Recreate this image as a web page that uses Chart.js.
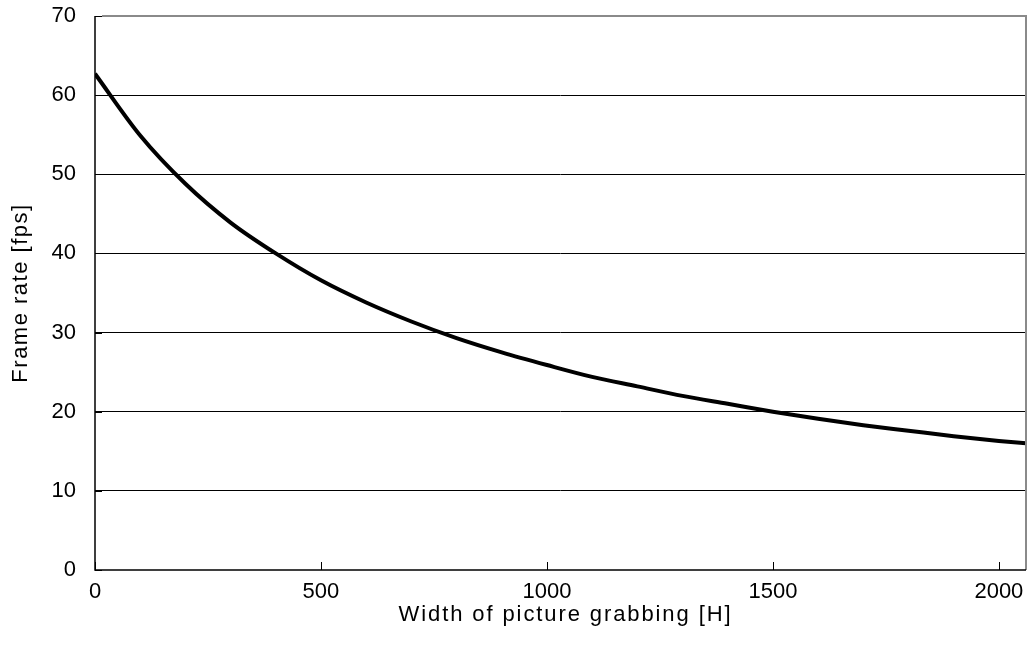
<!DOCTYPE html>
<html>
<head>
<meta charset="utf-8">
<script src="https://cdn.jsdelivr.net/npm/chart.js@4"></script>
<style>
html,body{margin:0;padding:0;background:#fff;}
canvas{display:block;}
</style>
</head>
<body>
<canvas id="c" width="1028" height="652"></canvas>
<script>
// Data
const widthH = [0, 100, 200, 300, 400, 500, 600, 700, 800, 900, 1000, 1100, 1200, 1300, 1400, 1500, 1600, 1700, 1800, 1900, 2000, 2060];
const frameRate = [62.7, 54.9, 48.8, 43.9, 40.0, 36.6, 33.8, 31.4, 29.3, 27.5, 25.9, 24.4, 23.2, 22.0, 21.0, 20.0, 19.1, 18.3, 17.6, 16.9, 16.3, 16.0];
const xTicks = [0, 500, 1000, 1500, 2000];
const yTicks = [0, 10, 20, 30, 40, 50, 60, 70];
const xTitle = 'Width of picture grabbing [H]';
const yTitle = 'Frame rate [fps]';

const FONT = "'Liberation Sans', Arial, sans-serif";

function patchTitle(scale, spacing, dx) {
  if (scale._patchedTitle) return;
  const orig = scale.drawTitle.bind(scale);
  scale.drawTitle = function () {
    const ctx = this.ctx;
    ctx.save();
    ctx.translate(dx, 0);
    ctx.letterSpacing = spacing;
    orig();
    ctx.restore();
    ctx.letterSpacing = '0px';
  };
  scale._patchedTitle = true;
}

const frame = {
  id: 'frame',
  afterDatasetsDraw(chart) {
    const {ctx, chartArea: a, scales: {x, y}} = chart;
    ctx.save();
    // inward tick marks
    ctx.strokeStyle = '#000';
    ctx.lineWidth = 1;
    ctx.beginPath();
    xTicks.forEach(v => {
      const px = Math.round(x.getPixelForValue(v)) + 0.5;
      ctx.moveTo(px, a.bottom);
      ctx.lineTo(px, a.bottom - 8);
    });
    yTicks.forEach(v => {
      const py = Math.round(y.getPixelForValue(v)) + 0.5;
      ctx.moveTo(a.left, py);
      ctx.lineTo(a.left + 7, py);
    });
    ctx.stroke();
    // gray top and right border
    ctx.strokeStyle = '#8a8a8a';
    ctx.lineWidth = 2;
    ctx.beginPath();
    ctx.moveTo(a.left + 7, a.top);
    ctx.lineTo(a.right, a.top);
    ctx.lineTo(a.right, a.bottom);
    ctx.stroke();
    // black left and bottom axes
    ctx.strokeStyle = '#000';
    ctx.lineWidth = 1.5;
    ctx.beginPath();
    ctx.moveTo(a.left, a.top);
    ctx.lineTo(a.left, a.bottom);
    ctx.lineTo(a.right, a.bottom);
    ctx.stroke();
    ctx.restore();
  }
};

new Chart(document.getElementById('c'), {
  type: 'line',
  data: {
    datasets: [{
      data: widthH.map((v, i) => ({x: v, y: frameRate[i]})),
      borderColor: '#000',
      borderWidth: 4,
      pointRadius: 0,
      fill: false,
      cubicInterpolationMode: 'monotone'
    }]
  },
  options: {
    responsive: false,
    animation: false,
    devicePixelRatio: 1,
    layout: {padding: {top: 16, right: 2, left: 0, bottom: 0}},
    plugins: {legend: {display: false}, tooltip: {enabled: false}},
    scales: {
      x: {
        type: 'linear',
        min: 0,
        max: 2060,
        afterBuildTicks: s => { s.ticks = xTicks.map(v => ({value: v})); },
        afterFit: s => { s.height = 82; s.paddingLeft = 0; s.paddingRight = 0; patchTitle(s, '1.9px', 5); },
        grid: {display: false, drawTicks: false},
        border: {display: false},
        ticks: {
          color: '#000',
          padding: 9,
          maxRotation: 0,
          callback: v => String(v),
          font: {family: FONT, size: 22}
        },
        title: {
          display: true,
          text: xTitle,
          color: '#000',
          padding: {top: 0, bottom: 24},
          font: {family: FONT, size: 22}
        }
      },
      y: {
        type: 'linear',
        min: 0,
        max: 70,
        afterBuildTicks: s => { s.ticks = yTicks.map(v => ({value: v})); },
        afterFit: s => { s.width = 95; s.paddingTop = 0; s.paddingBottom = 0; patchTitle(s, '1.5px', 0); },
        grid: {
          drawTicks: false,
          color: c => (c.tick && (c.tick.value === 0 || c.tick.value === 70)) ? 'rgba(0,0,0,0)' : '#000',
          lineWidth: 1
        },
        border: {display: false},
        ticks: {
          color: '#000',
          padding: 19,
          callback: v => String(v),
          font: {family: FONT, size: 22}
        },
        title: {
          display: true,
          text: yTitle,
          color: '#000',
          padding: {top: 8, bottom: 0},
          font: {family: FONT, size: 22}
        }
      }
    }
  },
  plugins: [frame]
});
</script>
</body>
</html>
